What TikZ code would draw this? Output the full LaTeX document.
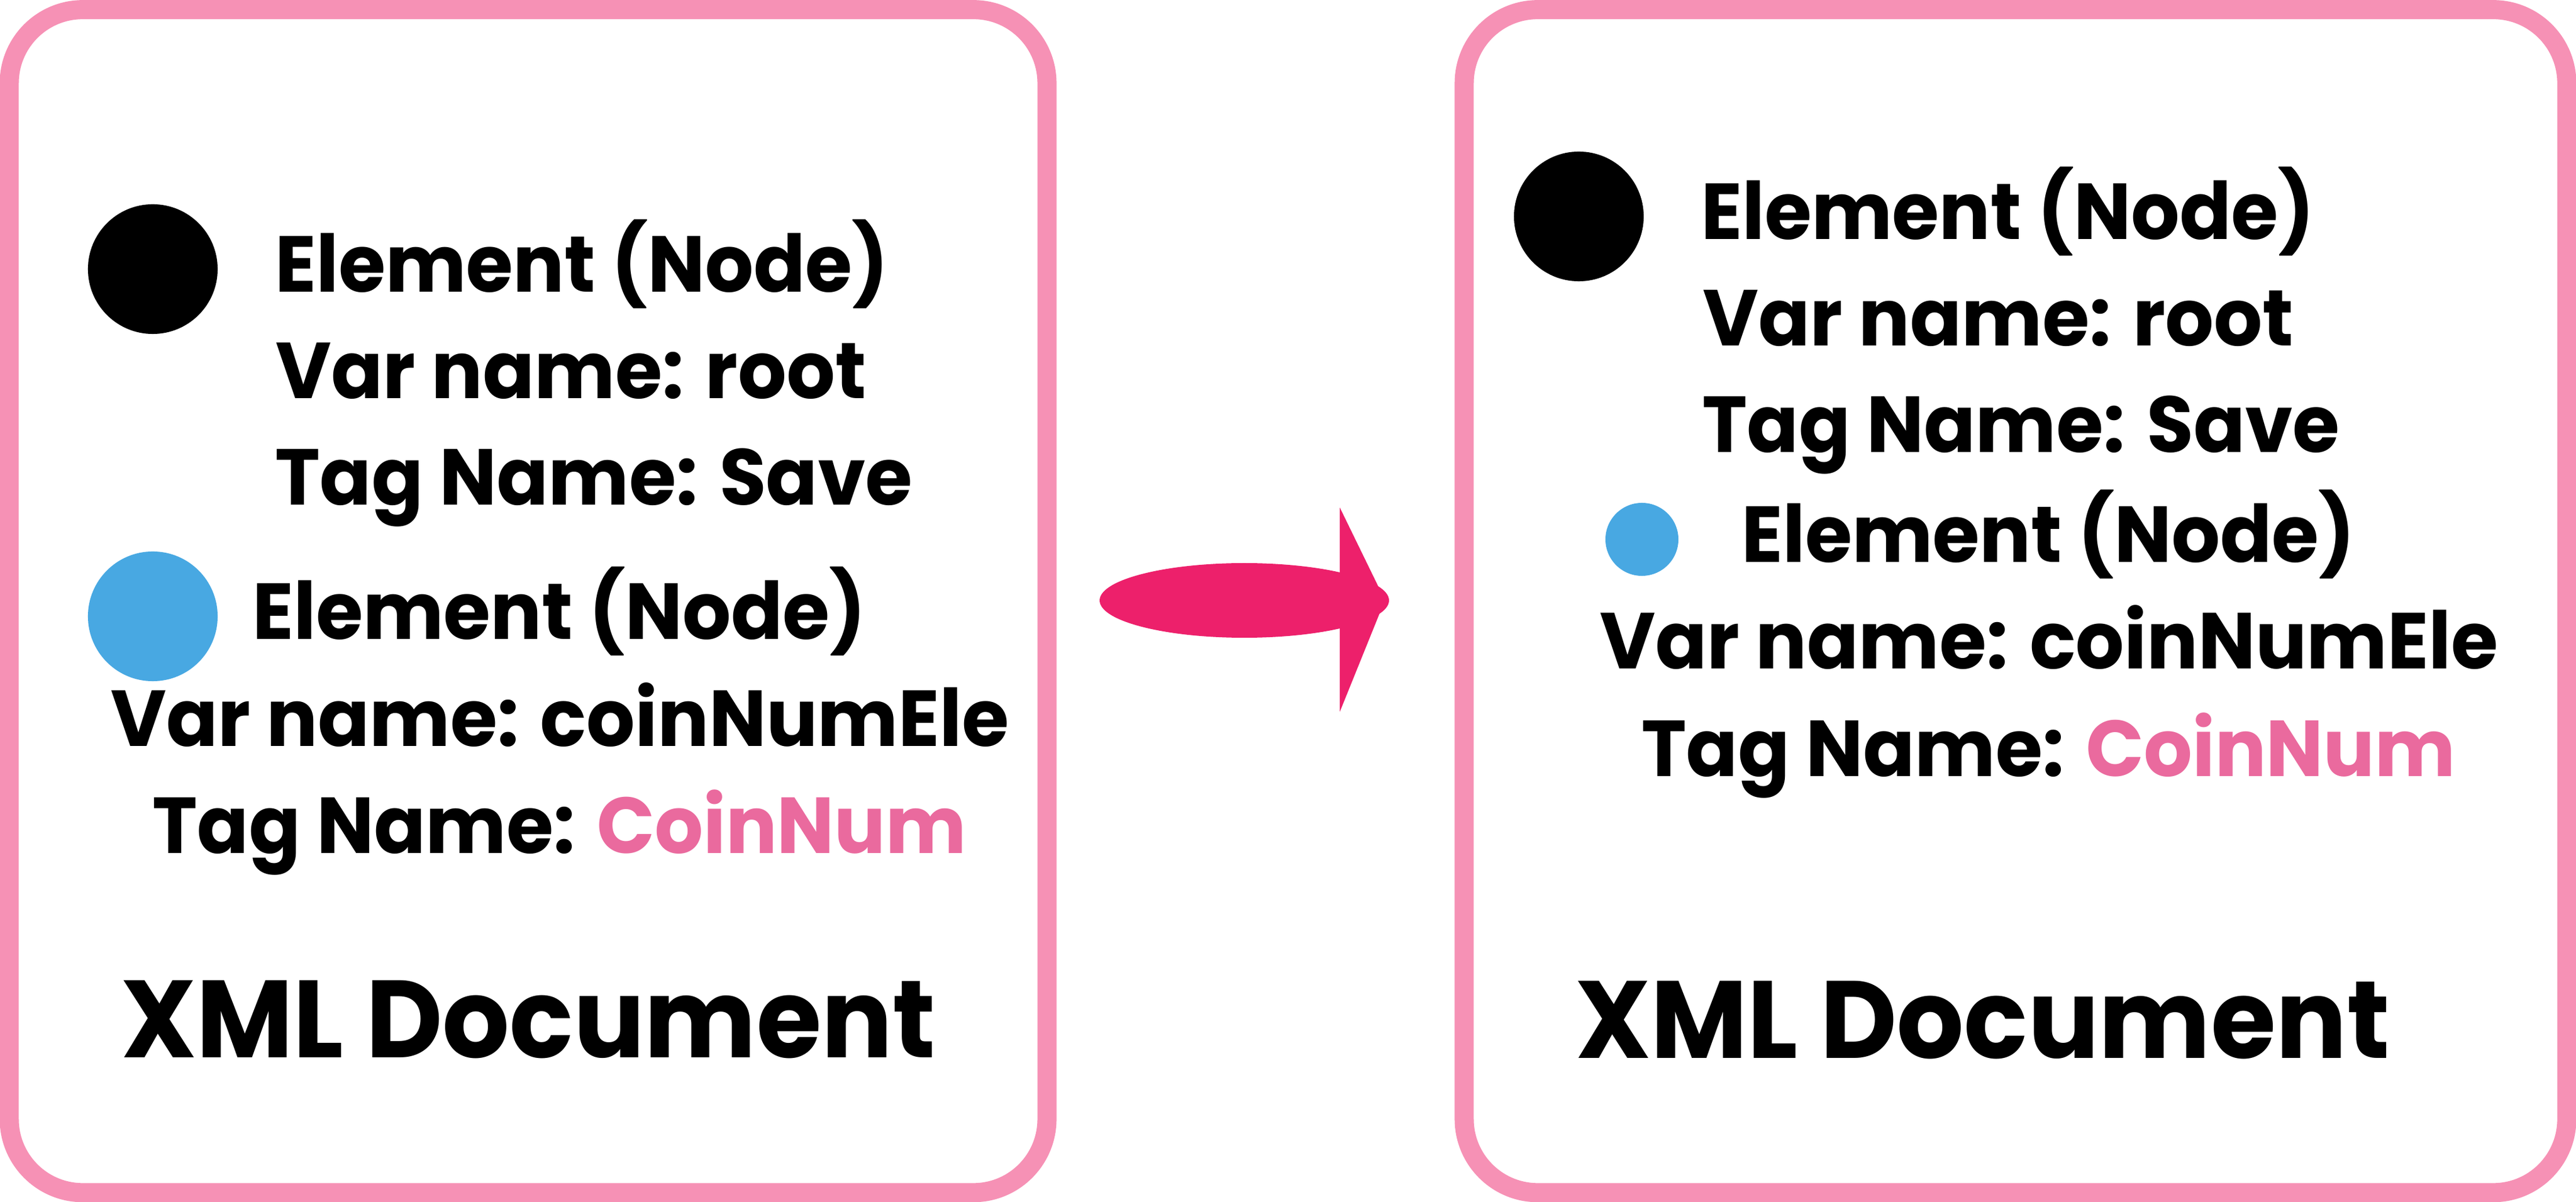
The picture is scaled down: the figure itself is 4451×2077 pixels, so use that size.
\documentclass[tikz,border=0pt]{standalone}
\usepackage{fontspec}
\setmainfont{Poppins}[FakeStretch=0.96]
\definecolor{boxpink}{HTML}{F691B5}
\definecolor{arrowpink}{HTML}{ED206B}
\definecolor{tagpink}{HTML}{EA6A9E}
\definecolor{nodeblue}{HTML}{48A8E2}
\tikzset{
  docbox/.style={draw=boxpink, line width=0.33cm, rounded corners=1.27cm, fill=white, inner sep=0pt},
  txt/.style={anchor=base west, inner sep=0pt, outer sep=0pt, font=\bfseries\fontsize{39}{47}\selectfont},
  title/.style={anchor=base west, inner sep=0pt, outer sep=0pt, font=\bfseries\fontsize{54}{64}\selectfont},
  dot/.style={circle, fill=#1, draw=none, inner sep=0pt},
}
\begin{document}
\begin{tikzpicture}[x=0.01cm,y=-0.01cm]
\useasboundingbox (0,0) rectangle (4451,2077);
% boxes
\node[docbox, minimum width=17.92cm, minimum height=20.43cm] (leftbox) at (912.5,1038.75) {};
\node[docbox, minimum width=19.04cm, minimum height=20.43cm] (rightbox) at (3482.5,1038.75) {};
% left content
\node[dot=black, minimum size=2.24cm] (lroot) at (264,465) {};
\node[txt] (l1) at (475,505) {Element (Node)};
\node[txt] (l2) at (476,689) {Var name: root};
\node[txt] (l3) at (475,873) {Tag Name: Save};
\node[dot=nodeblue, minimum size=2.24cm] (lcoin) at (264,1065) {};
\node[txt] (l4) at (436,1105) {Element (Node)};
\node[txt] (l5) at (191,1290) {Var name: coinNumEle};
\node[txt] (l6) at (263,1474) {Tag Name: \textcolor{tagpink}{CoinNum}};
\node[title] (ltitle) at (209,1827) {XML Document};
% right content
\node[dot=black, minimum size=2.24cm] (rroot) at (2728,374) {};
\node[txt] (r1) at (2939,414) {Element (Node)};
\node[txt] (r2) at (2942,598) {Var name: root};
\node[txt] (r3) at (2941,782) {Tag Name: Save};
\node[dot=nodeblue, minimum size=1.26cm] (rcoin) at (2837,932) {};
\node[txt] (r4) at (3009,972) {Element (Node)};
\node[txt] (r5) at (2764,1156) {Var name: coinNumEle};
\node[txt] (r6) at (2836,1341) {Tag Name: \textcolor{tagpink}{CoinNum}};
\node[title] (rtitle) at (2722,1828) {XML Document};
% arrow
\fill[arrowpink] (2150,1037.5) ellipse [x radius=250, y radius=64.5];
\fill[arrowpink, line join=round] (2315,877) -- (2393,1037) -- (2315,1230) -- cycle;
\end{tikzpicture}
\end{document}
